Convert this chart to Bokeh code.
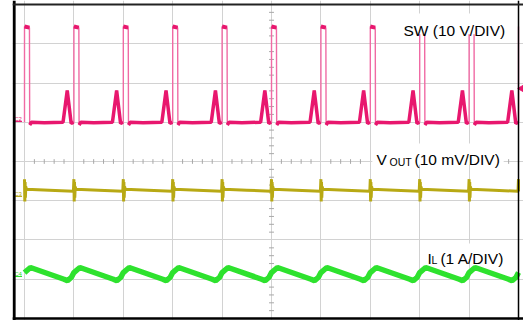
import numpy as np
from bokeh.plotting import figure
from bokeh.models import Range1d, Grid, FixedTicker, Span, Label, BoxAnnotation
from bokeh.embed import file_html
from bokeh.resources import INLINE

# ---- data (oscilloscope divisions) ----
edges = [0, 1, 2, 3, 4, 5, 6, 7, 8, 9, 10]      # switching edges (time, div)
t_end = 10.0

# SW (10 V/DIV): one period, offsets from each edge
sw_high_t = [0.0, 0.10]
sw_high_v = [3.44, 3.41]
sw_low_t = [0.105, 0.14, 0.40, 0.78, 0.865, 0.945, 0.995]
sw_low_v = [0.93, 1.0, 0.99, 1.0, 1.81, 0.97, 1.0]
sw_trigger = 1.86

# VOUT (10 mV/DIV)
vout_t = [0.0, 0.006, 0.012, 0.018, 0.026, 0.04, 0.5, 0.99]
vout_v = [-0.45, -1.02, -0.52, -0.92, -0.64, -0.71, -0.73, -0.76]

# IL (1 A/DIV)
il_t = [0.0, 0.12, 0.80, 0.87, 0.95]
il_v = [-2.83, -2.70, -3.00, -3.04, -2.95]

# channel markers (label, level, colour)
ch_names = ["C2", "C3", "C4"]
ch_levels = [1.02, -0.89, -2.93]

SW_C = "#e8176e"
SW_EDGE = "#f06aa4"
VO_C = "#b8a914"
IL_C = "#2ee22e"
ch_colors = [SW_C, VO_C, IL_C]

# ---- build traces from one-period shapes ----
def repeat(ts, vs):
    xs, ys = [], []
    for e in edges:
        for t, v in zip(ts, vs):
            if e + t <= t_end:
                xs.append(e + t)
                ys.append(v)
    return xs, ys

sw_x, sw_y = [], []
top_xs, top_ys, low_xs, low_ys = [], [], [], []
for e in edges:
    seg_tx = [e + t for t in sw_high_t if e + t <= t_end]
    seg_lx = [e + t for t in sw_low_t if e + t <= t_end]
    sw_x += [e] + seg_tx + seg_lx
    sw_y += [sw_low_v[-1]] + sw_high_v[:len(seg_tx)] + sw_low_v[:len(seg_lx)]
    if len(seg_tx) > 1:
        top_xs.append(seg_tx); top_ys.append(sw_high_v[:len(seg_tx)])
    if len(seg_lx) > 1:
        low_xs.append(seg_lx); low_ys.append(sw_low_v[:len(seg_lx)])

vo_x, vo_y = repeat(vout_t, vout_v)
vo_x.append(t_end); vo_y.append(vout_v[-1])
il_x, il_y = repeat(il_t, il_v)

# ---- figure ----
W, H = 523, 320
p = figure(width=W, height=H, output_backend="svg", toolbar_location=None,
           x_axis_type=None, y_axis_type=None,
           x_range=Range1d(-0.243, 10.101), y_range=Range1d(-4.051, 4.102),
           min_border_left=12, min_border_right=0, min_border_top=0, min_border_bottom=0)
p.outline_line_color = None
p.background_fill_color = "white"
p.border_fill_color = "white"

p.add_layout(Grid(dimension=0, ticker=FixedTicker(ticks=list(range(0, 11))),
                  grid_line_color="#d2d2d2", grid_line_width=1))
p.add_layout(Grid(dimension=1, ticker=FixedTicker(ticks=list(range(-4, 5))),
                  grid_line_color="#d2d2d2", grid_line_width=1))

# minor ticks on the centre cross
mx = [v for v in np.round(np.arange(0, 10.001, 0.2), 2) if abs(v - round(v)) > 1e-6]
my = [v for v in np.round(np.arange(-4, 4.001, 0.2), 2) if abs(v - round(v)) > 1e-6]
p.segment(x0=mx, y0=[-0.06] * len(mx), x1=mx, y1=[0.06] * len(mx), line_color="#a8a8a8", line_width=1)
p.segment(x0=[4.95] * len(my), y0=my, x1=[5.05] * len(my), y1=my, line_color="#a8a8a8", line_width=1)

# traces
p.line(il_x, il_y, line_color=IL_C, line_width=5.5)
p.line(vo_x, vo_y, line_color=VO_C, line_width=3)
p.line(sw_x, sw_y, line_color=SW_EDGE, line_width=1.4)
p.multi_line(low_xs, low_ys, line_color=SW_C, line_width=3.5)
p.multi_line(top_xs, top_ys, line_color=SW_C, line_width=4)

# trigger arrow (right edge)
p.scatter([10.065], [sw_trigger], marker="triangle", angle=np.pi / 2, size=7,
          fill_color=SW_C, line_color=SW_C)

# channel markers
for n, lv, c in zip(ch_names, ch_levels, ch_colors):
    p.add_layout(Label(x=-0.13, y=lv + 0.06, text=n, text_font="Liberation Sans",
                       text_font_size="6px", text_color=c, text_align="center",
                       text_baseline="alphabetic"))
    p.segment(x0=[-0.19], y0=[lv], x1=[-0.05], y1=[lv], line_color=c, line_width=1)

# white boxes behind channel titles
for l, r, b, t in [(7.57, 9.84, 3.24, 3.77), (7.04, 9.70, -0.08, 0.46), (8.08, 9.82, -2.57, -2.09)]:
    p.add_layout(BoxAnnotation(left=l, right=r, bottom=b, top=t, fill_color="white",
                               fill_alpha=1.0, line_color=None, level="annotation"))

# frame borders
p.add_layout(Span(location=-0.21, dimension="height", line_color="black", line_width=3))
p.add_layout(Span(location=10.0, dimension="height", line_color="black", line_width=1.5))
p.add_layout(Span(location=4.0, dimension="width", line_color="#222222", line_width=2))
p.add_layout(Span(location=-4.0, dimension="width", line_color="black", line_width=2.5))

# channel titles
FONT = "Liberation Sans"
FS = "15.5px"
def txt(x, y, text, size=FS):
    p.add_layout(Label(x=x, y=y, text=text, text_font=FONT, text_font_size=size,
                       text_color="black", text_baseline="alphabetic"))

txt(7.672, 3.34, "SW (10 V/DIV)")

txt(7.126, 0.05, "V")
txt(7.389, 0.0, "OUT", "10.5px")
txt(7.895, 0.05, "(10 mV/DIV)")

txt(8.158, -2.47, "I")
txt(8.239, -2.52, "L", "10.5px")
txt(8.42, -2.47, "(1 A/DIV)")

open("out.html", "w").write(file_html(p, INLINE))
